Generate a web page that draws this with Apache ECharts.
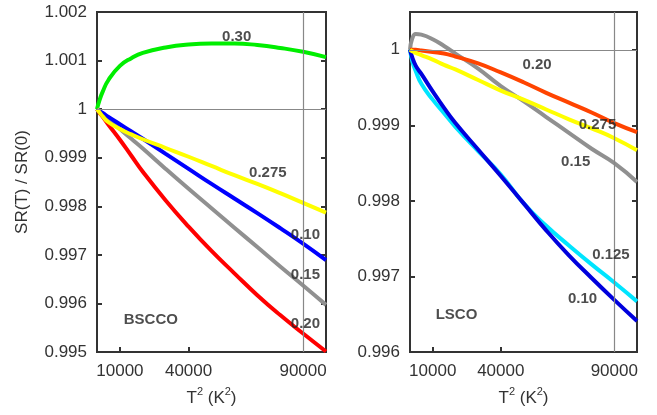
<!DOCTYPE html>
<html>
<head>
<meta charset="utf-8">
<script src="https://cdn.jsdelivr.net/npm/echarts@6/dist/echarts.min.js"></script>
<style>
  html, body { margin: 0; padding: 0; background: #ffffff; }
  #chart { width: 657px; height: 415px; }
</style>
</head>
<body>
<div id="chart"></div>
<script>
  // T^2 sample points (K^2), shared by every curve
  var t2 = [0, 1000, 2500, 5000, 10000, 15000, 20000, 30000, 40000, 50000, 60000, 70000, 80000, 90000, 100000];

  // BSCCO panel, SR(T)/SR(0)
  var bscco030  = [1, 1.00017, 1.00036, 1.0006, 1.00089, 1.00105, 1.00116, 1.00127, 1.00133, 1.00135, 1.00135, 1.00132, 1.00126, 1.00118, 1.00107];
  var bscco0275 = [1, 0.99994, 0.99985, 0.99973, 0.99959, 0.99948, 0.99938, 0.99920, 0.99902, 0.99883, 0.99864, 0.99846, 0.99827, 0.99807, 0.99787];
  var bscco010  = [1, 0.99996, 0.99992, 0.99984, 0.99969, 0.99954, 0.99939, 0.99908, 0.99877, 0.99846, 0.99816, 0.99786, 0.99755, 0.99723, 0.99689];
  var bscco015  = [1, 0.99996, 0.99990, 0.99979, 0.99959, 0.99939, 0.99919, 0.99877, 0.99836, 0.99796, 0.99756, 0.99716, 0.99676, 0.99637, 0.99597];
  var bscco020  = [1, 0.99993, 0.99984, 0.99968, 0.99937, 0.99904, 0.99871, 0.99812, 0.99758, 0.99708, 0.99662, 0.99617, 0.99576, 0.99538, 0.99501];

  // LSCO panel
  var lsco015  = [1, 1.00015, 1.00021, 1.0002, 1.00014, 1.00005, 0.99995, 0.99975, 0.99952, 0.99932, 0.99911, 0.99890, 0.99869, 0.99850, 0.99825];
  var lsco020  = [1, 1.0, 1.0, 0.99999, 0.99997, 0.99995, 0.99991, 0.99982, 0.99970, 0.99957, 0.99943, 0.99930, 0.99917, 0.99903, 0.99891];
  var lsco0275 = [1, 0.99998, 0.99996, 0.99993, 0.99987, 0.99980, 0.99974, 0.99960, 0.99946, 0.99934, 0.99921, 0.99908, 0.99896, 0.99883, 0.99867];
  var lsco010  = [1, 0.99990, 0.99979, 0.99968, 0.99945, 0.99923, 0.99903, 0.99868, 0.99833, 0.99797, 0.99761, 0.99728, 0.99698, 0.99669, 0.99641];
  var lsco0125 = [1, 0.99985, 0.99972, 0.99955, 0.99934, 0.99916, 0.99898, 0.99866, 0.99835, 0.99797, 0.99767, 0.99741, 0.99716, 0.99692, 0.99667];

  // x tick labels and curve annotations [text, T^2, value]
  var xTicks = [10000, 40000, 90000];
  var bsccoNotes = [['0.30', 61000, 1.00149], ['0.275', 74600, 0.99869], ['0.10', 91000, 0.99742],
                    ['0.15', 91000, 0.99658], ['0.20', 91000, 0.99558], ['BSCCO', 23500, 0.99567]];
  var lscoNotes = [['0.20', 56000, 0.99980], ['0.275', 82600, 0.99900], ['0.15', 73000, 0.99851],
                   ['0.125', 88500, 0.99729], ['0.10', 76000, 0.99670], ['LSCO', 20500, 0.99649]];

  function pairs(vals) {
    return t2.map(function (x, i) { return [x, vals[i]]; });
  }

  var chart = echarts.init(document.getElementById('chart'));
  var font = 'Liberation Sans, Arial, sans-serif';

  function xAxisFor(idx) {
    return {
      gridIndex: idx, type: 'value', min: 0, max: 100000,
      axisLine: { show: false },
      splitLine: { show: false },
      axisTick: { inside: true, length: 5, customValues: [10000, 40000], lineStyle: { color: '#333', width: 2 } },
      axisLabel: {
        customValues: xTicks, fontSize: 17, color: '#333', fontFamily: font, margin: 11,
        formatter: function (v) { return String(v); }
      },
      name: 'T{s|2} (K{s|2})',
      nameLocation: 'middle', nameGap: 34,
      nameTextStyle: {
        fontSize: 17, color: '#333', fontFamily: font, lineHeight: 24,
        rich: { s: { fontSize: 11, lineHeight: 12, verticalAlign: 'top', color: '#333', fontFamily: font } }
      }
    };
  }

  function yAxisFor(idx, min, max, right) {
    return {
      gridIndex: idx, type: 'value', min: min, max: max, interval: 0.001,
      position: right ? 'right' : 'left',
      axisLine: { show: false },
      splitLine: { show: false },
      axisTick: { inside: true, length: 5, lineStyle: { color: '#333', width: 2 } },
      axisLabel: { show: !right, fontSize: 17, color: '#333', fontFamily: font, margin: 10, showMaxLabel: max !== 1.0005 }
    };
  }

  function curve(xi, yi, vals, color) {
    return {
      type: 'line', xAxisIndex: xi, yAxisIndex: yi, data: pairs(vals),
      smooth: 0.5, showSymbol: false, z: 3,
      lineStyle: { color: color, width: 4 }
    };
  }

  function refLines(xi, yi) {
    return {
      type: 'line', xAxisIndex: xi, yAxisIndex: yi, data: [], z: 1,
      markLine: {
        silent: true, symbol: 'none', label: { show: false },
        lineStyle: { color: '#888', width: 1.2, type: 'solid' },
        data: [{ yAxis: 1 }, { xAxis: 90000 }]
      }
    };
  }

  function notes(xi, yi, list) {
    return {
      type: 'scatter', xAxisIndex: xi, yAxisIndex: yi, symbolSize: 0, z: 5,
      data: list.map(function (n) { return { name: n[0], value: [n[1], n[2]] }; }),
      label: {
        show: true, position: 'inside', formatter: '{b}',
        fontSize: 15, fontWeight: 'bold', color: '#222', fontFamily: font
      }
    };
  }

  var option = {
    animation: false,
    grid: [
      { left: 97, top: 12, width: 229, height: 342, show: true, borderColor: '#333', borderWidth: 2 },
      { left: 410, top: 12, width: 227, height: 342, show: true, borderColor: '#333', borderWidth: 2 }
    ],
    xAxis: [xAxisFor(0), xAxisFor(1)],
    yAxis: [
      Object.assign(yAxisFor(0, 0.995, 1.002, false), {
        name: 'SR(T) / SR(0)', nameLocation: 'middle', nameGap: 66,
        nameTextStyle: { fontSize: 17, color: '#333', fontFamily: font }
      }),
      yAxisFor(0, 0.995, 1.002, true),
      yAxisFor(1, 0.996, 1.0005, false),
      yAxisFor(1, 0.996, 1.0005, true)
    ],
    series: [
      refLines(0, 0),
      curve(0, 0, bscco030, '#00ee00'),
      curve(0, 0, bscco020, '#ff0000'),
      curve(0, 0, bscco015, '#909090'),
      curve(0, 0, bscco010, '#0000ff'),
      curve(0, 0, bscco0275, '#ffff00'),
      notes(0, 0, bsccoNotes),
      refLines(1, 2),
      curve(1, 2, lsco015, '#909090'),
      curve(1, 2, lsco0125, '#00e5ff'),
      curve(1, 2, lsco010, '#0000dd'),
      curve(1, 2, lsco020, '#ff4400'),
      curve(1, 2, lsco0275, '#ffff00'),
      notes(1, 2, lscoNotes)
    ]
  };
  chart.setOption(option);
</script>
</body>
</html>
